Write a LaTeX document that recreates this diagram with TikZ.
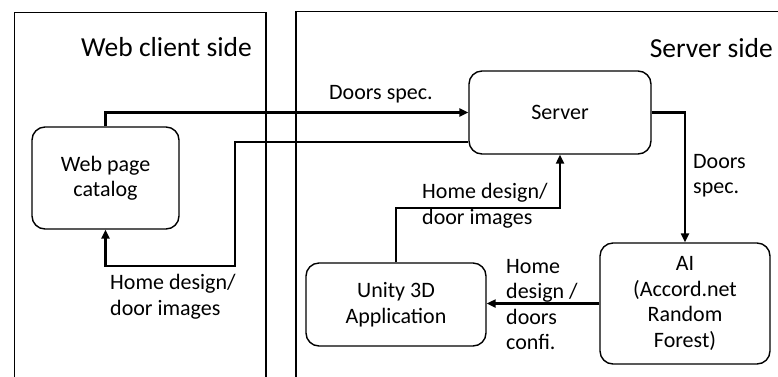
\documentclass[tikz,border=0pt]{standalone}
\usepackage{fontspec}
\setmainfont{Carlito}
\usetikzlibrary{arrows.meta}
\begin{document}
\begin{tikzpicture}[x=1pt,y=-1pt,
  panel/.style={draw, line width=1.6pt},
  blockbox/.style={draw, line width=1.4pt, rounded corners=13pt, align=center,
    font=\fontsize{22}{25.5}\selectfont, inner sep=0pt},
  flow/.style={line width=2.2pt, -{Triangle[length=9pt,width=8pt]}},
  lbl/.style={align=left, inner sep=0pt, font=\fontsize{22}{25.5}\selectfont},
  title/.style={inner sep=0pt, font=\fontsize{27.5}{32}\selectfont}]
\useasboundingbox (0,0) rectangle (778,376);
\clip (0,0) rectangle (778,376);
\fill[white] (0,0) rectangle (778,376);

% the two sides
\draw[panel] (14.5,12.5) rectangle (266,400);
\draw[panel] (296,11.5) rectangle (800,400);
\node[title, anchor=east] (tclient) at (252,47) {Web client side};
\node[title, anchor=east] (tserver) at (773,48) {Server side};

% blocks
\node[blockbox, minimum width=147pt, minimum height=102pt] (catalog) at (105.5,178) {Web page\\catalog};
\node[blockbox, minimum width=182pt, minimum height=83pt] (server) at (560,112.5) {Server};
\node[blockbox, minimum width=180pt, minimum height=83pt] (unity) at (396,304.5) {Unity 3D\\Application};
\node[blockbox, minimum width=170pt, minimum height=121pt] (ai) at (685,303.5) {AI\\(Accord.net\\Random\\Forest)};

% bend points
\coordinate (b1) at (235,142);
\coordinate (b2) at (235,266);
\coordinate (c1) at (560,208);

% connectors
\draw[flow] (catalog.north) |- (server.west);
\draw[flow] (b1 -| server.west) -- (b1) -- (b2) -| (catalog.south);
\draw[flow] (server.east) -| (ai.north);
\draw[flow] (unity.north) |- (c1) -- (server.south);
\draw[flow] (ai.west) -- (ai.west -| unity.east);

% connector labels
\node[lbl, anchor=west] (l1) at (329,94) {Doors spec.};
\node[lbl, anchor=west] (l2) at (110,296.5) {Home design/\\door images};
\node[lbl, anchor=west] (l3) at (693,175.5) {Doors\\spec.};
\node[lbl, anchor=west] (l4) at (422,205.5) {Home design/\\door images};
\node[lbl, anchor=west] (l5) at (506,304.5) {Home\\design /\\doors\\confi.};
\end{tikzpicture}
\end{document}
